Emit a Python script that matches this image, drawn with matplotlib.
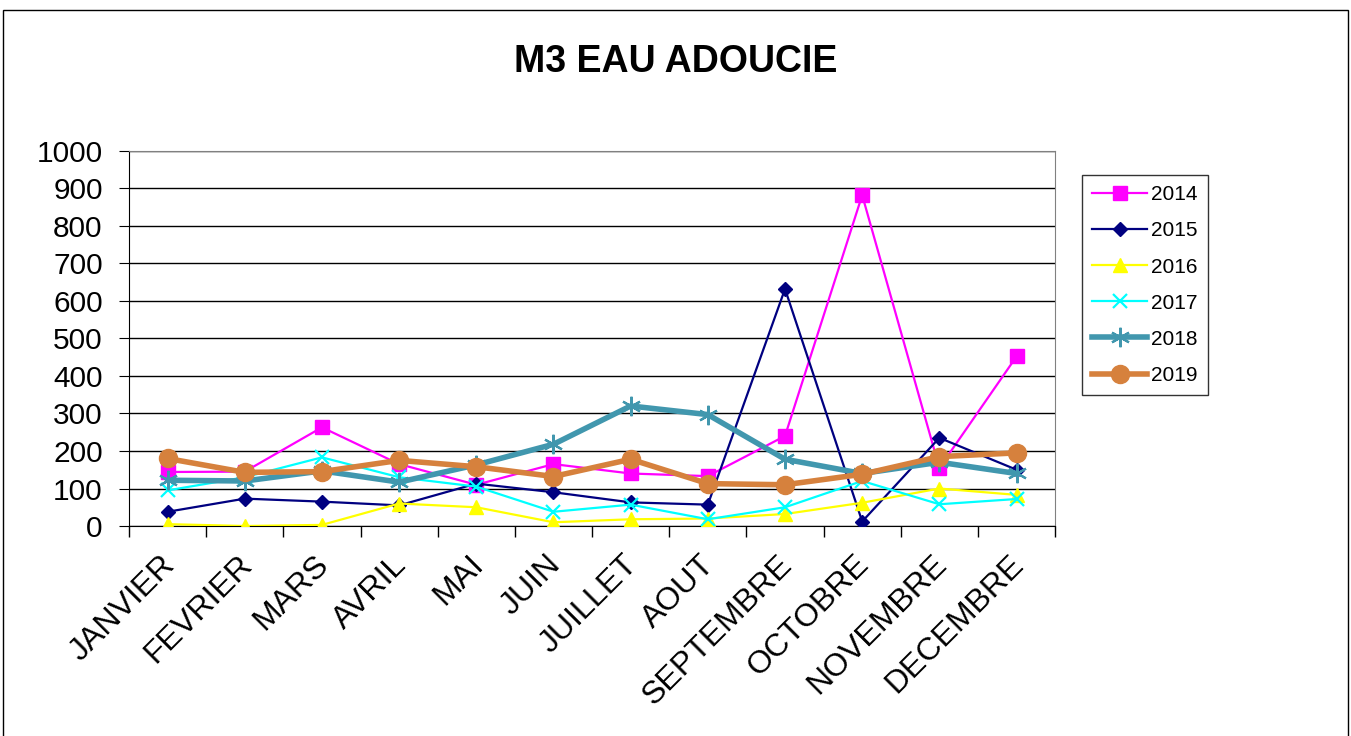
import numpy as np
import matplotlib.pyplot as plt
from matplotlib.patches import Rectangle
from matplotlib.transforms import ScaledTranslation

plt.rcParams['font.family'] = ['Liberation Sans', 'DejaVu Sans']

mois = ['JANVIER', 'FEVRIER', 'MARS', 'AVRIL', 'MAI', 'JUIN', 'JUILLET',
        'AOUT', 'SEPTEMBRE', 'OCTOBRE', 'NOVEMBRE', 'DECEMBRE']

m3_2014 = [144, 145, 263, 165, 110, 165, 140, 133, 240, 882, 155, 452]
m3_2015 = [38, 73, 65, 55, 113, 90, 63, 57, 632, 12, 235, 150]
m3_2016 = [5, 0, 3, 60, 50, 10, 18, 20, 32, 62, 100, 83]
m3_2017 = [95, 130, 183, 130, 105, 38, 57, 18, 50, 120, 58, 72]
m3_2018 = [122, 120, 147, 117, 163, 218, 320, 297, 178, 140, 170, 140]
m3_2019 = [180, 143, 145, 175, 158, 132, 178, 113, 110, 138, 185, 195]

fig = plt.figure(figsize=(13.51, 7.36), dpi=100)
ax = fig.add_axes([0.0955, 0.2853, 0.6855, 0.5097])

x = np.arange(len(mois))

# thin series
ax.plot(x, m3_2014, color='#FF00FF', lw=1.6, marker='s', ms=10, label='2014', zorder=3)
ax.plot(x, m3_2015, color='#000080', lw=1.6, marker='D', ms=7, label='2015', zorder=3)
ax.plot(x, m3_2016, color='#FFFF00', lw=1.6, marker='^', ms=10, label='2016', zorder=3)
ax.plot(x, m3_2017, color='#00FFFF', lw=1.6, marker='x', ms=10, mew=1.6, label='2017', zorder=3)
# thick series
ax.plot(x, m3_2018, color='#4197AE', lw=4, marker=(6, 2, 0), ms=14, mew=1.6, label='2018', zorder=4)
ax.plot(x, m3_2019, color='#D6813D', lw=4, marker='o', ms=13, label='2019', zorder=5)

ax.set_xlim(-0.5, 11.5)
ax.set_ylim(0, 1000)
ax.set_yticks(np.arange(0, 1001, 100))
ax.yaxis.grid(True, color='black', lw=1)
ax.set_axisbelow(True)

ax.set_xticks(np.arange(-0.5, 12, 1))
ax.set_xticklabels([])
ax.set_xticks(x, minor=True)
ax.set_xticklabels(mois, minor=True, rotation=45, ha='right', va='top',
                   rotation_mode='anchor', fontsize=23)
ax.tick_params(axis='x', which='minor', length=0, pad=17)
ax.tick_params(axis='x', which='major', length=8, width=1, direction='out')
ax.tick_params(axis='y', labelsize=21.5, length=7, direction='out', pad=12)

# nudge the slanted month names a little to the left
shift = ScaledTranslation(-0.08, 0, fig.dpi_scale_trans)
for lab in ax.get_xticklabels(minor=True):
    lab.set_transform(lab.get_transform() + shift)

for side in ['top', 'right']:
    ax.spines[side].set_color('#808080')
for side in ['left', 'bottom']:
    ax.spines[side].set_color('black')

fig.text(0.5, 1 - 62 / 736, 'M3 EAU ADOUCIE', fontsize=27, fontweight='bold',
         ha='center', va='center')

leg = ax.legend(loc='upper left', bbox_to_anchor=(1082 / 1351, 1 - 175 / 736),
                bbox_transform=fig.transFigure, fontsize=15, frameon=True,
                fancybox=False, edgecolor='black', borderpad=0.5,
                borderaxespad=0, labelspacing=0.82, handlelength=2.6,
                handletextpad=0.2)
leg.get_frame().set_linewidth(1)

# outer frame of the chart area
fig.patches.append(Rectangle((3 / 1351, -0.05), 1345 / 1351, 0.05 + 1 - 10 / 736,
                             transform=fig.transFigure, fill=False,
                             edgecolor='black', lw=1))

fig.savefig('out.png', dpi=100)
